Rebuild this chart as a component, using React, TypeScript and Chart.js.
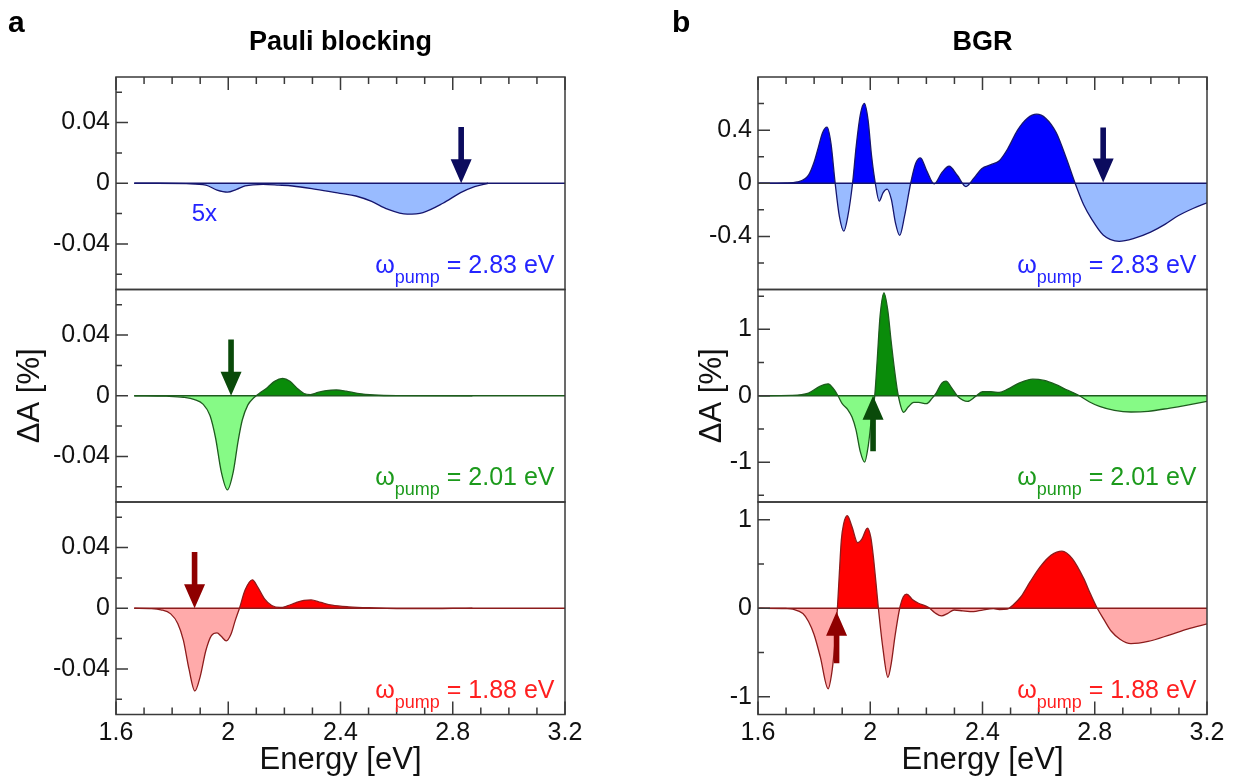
import React, { useEffect, useRef } from "react";
import { Chart, registerables } from "chart.js";
Chart.register(...registerables);

// ---------- shared axis data ----------
const X_TICKS = [1.6, 2.0, 2.4, 2.8, 3.2];
const X_MINOR = [1.7, 1.8, 1.9, 2.1, 2.2, 2.3, 2.5, 2.6, 2.7, 2.9, 3.0, 3.1];
const PUMP_ENERGIES = ["2.83", "2.01", "1.88"];
const ZERO_A_X = [1.665, 3.2];
const ZERO_B_X = [1.6, 3.2];
const ZERO_Y = [0, 0];

// ---------- panel a : Pauli blocking ----------
const A_RANGE = [-0.07, 0.07];
const A_MAJOR = [-0.04, 0, 0.04];
const A_MINOR = [-0.06, -0.02, 0.02, 0.06];

const A1_X = [1.665, 1.75, 1.85, 1.92, 1.96, 1.997, 2.03, 2.06, 2.124, 2.18, 2.229, 2.313, 2.398, 2.455, 2.511, 2.568, 2.638, 2.694, 2.765, 2.828, 2.878, 2.926];
const A1_Y = [0, 0, -0.0003, -0.0012, -0.0045, -0.0059, -0.004, -0.0018, -0.0007, -0.0012, -0.0018, -0.004, -0.0066, -0.0084, -0.012, -0.0171, -0.0204, -0.0193, -0.0132, -0.0062, -0.0022, 0];

const A2_X = [1.665, 1.78, 1.84, 1.88, 1.91, 1.935, 1.955, 1.975, 1.997, 2.018, 2.035, 2.05, 2.07, 2.09, 2.11, 2.14, 2.165, 2.194, 2.22, 2.245, 2.27, 2.293, 2.32, 2.35, 2.385, 2.42, 2.46, 2.52, 2.6, 2.87];
const A2_Y = [0, -0.0003, -0.001, -0.0025, -0.0055, -0.013, -0.028, -0.05, -0.062, -0.05, -0.03, -0.016, -0.006, -0.0015, 0.0015, 0.0055, 0.0095, 0.0114, 0.0095, 0.005, 0.0015, 0.0008, 0.0022, 0.0034, 0.0038, 0.003, 0.0016, 0.0005, 0.0001, 0];

const A3_X = [1.665, 1.72, 1.76, 1.795, 1.82, 1.84, 1.86, 1.881, 1.9, 1.92, 1.94, 1.96, 1.975, 1.993, 2.01, 2.025, 2.04, 2.06, 2.086, 2.105, 2.13, 2.155, 2.185, 2.21, 2.24, 2.27, 2.295, 2.33, 2.37, 2.43, 2.52, 2.6, 2.7, 2.8, 2.87];
const A3_Y = [0, -0.0002, -0.001, -0.0037, -0.01, -0.021, -0.04, -0.0545, -0.045, -0.028, -0.018, -0.0162, -0.0185, -0.0215, -0.017, -0.008, 0, 0.012, 0.0187, 0.014, 0.006, 0.0018, 0.0005, 0.0015, 0.0036, 0.0052, 0.0055, 0.0038, 0.002, 0.0009, 0.0002, -0.0002, -0.0003, -0.0001, 0];

const A_ARROW_E = [2.83, 2.01, 1.88];
const A_ARROW_FROM = [0.037, 0.037, 0.037];
const A_ARROW_TO = [0, 0, 0];
const A_NOTE_POS = [1.87, -0.0246];

// ---------- panel b : BGR ----------
const B1_RANGE = [-0.8, 0.8];
const B1_MAJOR = [-0.4, 0, 0.4];
const B1_MINOR = [-0.6, -0.2, 0.2, 0.6];
const B2_RANGE = [-1.6, 1.6];
const B2_MAJOR = [-1, 0, 1];
const B2_MINOR = [-1.5, -0.5, 0.5, 1.5];
const B3_RANGE = [-1.2, 1.2];
const B3_MAJOR = [-1, 0, 1];
const B3_MINOR = [-0.5, 0.5];

const B1_X = [1.605, 1.7, 1.74, 1.78, 1.8, 1.815, 1.83, 1.846, 1.86, 1.875, 1.89, 1.906, 1.92, 1.937, 1.95, 1.965, 1.979, 1.992, 2.005, 2.018, 2.032, 2.046, 2.06, 2.075, 2.09, 2.105, 2.122, 2.144, 2.162, 2.179, 2.2, 2.228, 2.255, 2.281, 2.31, 2.341, 2.37, 2.397, 2.43, 2.46, 2.49, 2.525, 2.56, 2.593, 2.625, 2.663, 2.7, 2.73, 2.76, 2.789, 2.83, 2.887, 2.94, 2.999, 3.05, 3.097, 3.15, 3.2];
const B1_Y = [0, 0.002, 0.01, 0.061, 0.16, 0.27, 0.38, 0.422, 0.3, 0, -0.25, -0.361, -0.25, 0, 0.28, 0.52, 0.601, 0.48, 0.2, 0, -0.135, -0.07, -0.044, -0.12, -0.3, -0.393, -0.25, 0, 0.15, 0.191, 0.1, -0.005, 0.08, 0.128, 0.06, -0.025, 0.04, 0.11, 0.14, 0.17, 0.26, 0.4, 0.49, 0.52, 0.49, 0.38, 0.18, 0, -0.16, -0.27, -0.39, -0.437, -0.415, -0.368, -0.31, -0.245, -0.19, -0.147];

const B2_X = [1.605, 1.72, 1.78, 1.82, 1.85, 1.87, 1.885, 1.9, 1.92, 1.935, 1.949, 1.965, 1.98, 1.993, 2.004, 2.016, 2.025, 2.035, 2.049, 2.062, 2.075, 2.088, 2.1, 2.119, 2.135, 2.155, 2.172, 2.2, 2.22, 2.235, 2.255, 2.27, 2.29, 2.312, 2.347, 2.375, 2.4, 2.43, 2.46, 2.49, 2.53, 2.579, 2.62, 2.66, 2.7, 2.746, 2.78, 2.817, 2.87, 2.929, 2.99, 3.068, 3.13, 3.2];
const B2_Y = [0, 0.005, 0.04, 0.14, 0.18, 0.1, 0, -0.12, -0.21, -0.32, -0.51, -0.85, -1.0, -0.75, -0.36, 0, 0.55, 1.2, 1.55, 1.3, 0.8, 0.34, 0, -0.25, -0.17, -0.1, -0.1, -0.12, -0.04, 0.04, 0.19, 0.22, 0.12, -0.01, -0.085, -0.01, 0.06, 0.06, 0.05, 0.1, 0.19, 0.25, 0.23, 0.17, 0.09, 0, -0.09, -0.16, -0.22, -0.245, -0.235, -0.185, -0.14, -0.085];

const B3_X = [1.605, 1.7, 1.724, 1.76, 1.78, 1.8, 1.822, 1.85, 1.862, 1.872, 1.883, 1.89, 1.897, 1.905, 1.918, 1.935, 1.955, 1.97, 1.99, 2.002, 2.011, 2.02, 2.029, 2.045, 2.063, 2.075, 2.088, 2.105, 2.118, 2.13, 2.15, 2.172, 2.207, 2.23, 2.254, 2.275, 2.299, 2.33, 2.368, 2.4, 2.439, 2.46, 2.488, 2.51, 2.537, 2.57, 2.606, 2.645, 2.683, 2.72, 2.76, 2.785, 2.809, 2.835, 2.859, 2.89, 2.929, 2.99, 3.068, 3.13, 3.2];
const B3_Y = [0, -0.003, -0.01, -0.06, -0.15, -0.3, -0.55, -0.91, -0.75, -0.47, 0, 0.4, 0.77, 0.95, 1.045, 0.92, 0.74, 0.78, 0.905, 0.8, 0.585, 0.3, 0, -0.45, -0.78, -0.62, -0.32, 0, 0.13, 0.16, 0.1, 0.057, 0.011, -0.05, -0.087, -0.06, -0.02, -0.03, -0.038, -0.02, -0.005, -0.015, -0.01, 0.04, 0.13, 0.3, 0.47, 0.6, 0.645, 0.56, 0.34, 0.16, 0, -0.14, -0.26, -0.35, -0.4, -0.375, -0.3, -0.235, -0.177];

const B_ARROW_E = [2.83, 2.01, 1.88];
const B_ARROW_FROM = [0.42, -0.835, -0.62];
const B_ARROW_TO = [0.005, 0, -0.04];

// ---------- styles ----------
const FONT = "'Liberation Sans', Arial, Helvetica, sans-serif";
const FRAME = "#3a3a3a";
const TEXT = "#111111";
const STYLES = [
  { line: "#16166e", above: "#0000ff", below: "#99bbff", zero: "#16166e", text: "#2424ff", arrow: "#0b0b5e" },
  { line: "#1e5c1e", above: "#0a8c0a", below: "#86fa86", zero: "#1e5c1e", text: "#1c9a1c", arrow: "#0a4a0a" },
  { line: "#8c1c1c", above: "#ff0000", below: "#ffaaaa", zero: "#8c1c1c", text: "#ff1f1f", arrow: "#8f0000" },
];

type Sub = { xs: number[]; ys: number[]; range: number[]; major: number[]; minor: number[] };
type Panel = {
  title: string;
  letter: string;
  subs: Sub[];
  zeroX: number[];
  arrowE: number[];
  arrowFrom: number[];
  arrowTo: number[];
  note: boolean;
  yAxisW: number;
  padRight: number;
  yTitlePad: number;
};

const PANEL_A: Panel = {
  title: "Pauli blocking",
  letter: "a",
  subs: [
    { xs: A1_X, ys: A1_Y, range: A_RANGE, major: A_MAJOR, minor: A_MINOR },
    { xs: A2_X, ys: A2_Y, range: A_RANGE, major: A_MAJOR, minor: A_MINOR },
    { xs: A3_X, ys: A3_Y, range: A_RANGE, major: A_MAJOR, minor: A_MINOR },
  ],
  zeroX: ZERO_A_X,
  arrowE: A_ARROW_E,
  arrowFrom: A_ARROW_FROM,
  arrowTo: A_ARROW_TO,
  note: true,
  yAxisW: 116,
  padRight: 53,
  yTitlePad: 11.5,
};

const PANEL_B: Panel = {
  title: "BGR",
  letter: "b",
  subs: [
    { xs: B1_X, ys: B1_Y, range: B1_RANGE, major: B1_MAJOR, minor: B1_MINOR },
    { xs: B2_X, ys: B2_Y, range: B2_RANGE, major: B2_MAJOR, minor: B2_MINOR },
    { xs: B3_X, ys: B3_Y, range: B3_RANGE, major: B3_MAJOR, minor: B3_MINOR },
  ],
  zeroX: ZERO_B_X,
  arrowE: B_ARROW_E,
  arrowFrom: B_ARROW_FROM,
  arrowTo: B_ARROW_TO,
  note: false,
  yAxisW: 140,
  padRight: 29,
  yTitlePad: 75.5,
};

function drawArrow(ctx: CanvasRenderingContext2D, x: number, yFrom: number, yTo: number, color: string) {
  const dir = yTo > yFrom ? 1 : -1;
  const head = 24;
  const hw = 10.5;
  const sw = 2.8;
  const baseY = yTo - dir * head;
  ctx.fillStyle = color;
  ctx.beginPath();
  ctx.moveTo(x - sw, yFrom);
  ctx.lineTo(x + sw, yFrom);
  ctx.lineTo(x + sw, baseY);
  ctx.lineTo(x + hw, baseY);
  ctx.lineTo(x, yTo);
  ctx.lineTo(x - hw, baseY);
  ctx.lineTo(x - sw, baseY);
  ctx.closePath();
  ctx.fill();
}

function drawPump(ctx: CanvasRenderingContext2D, right: number, baseY: number, color: string, value: string) {
  const big = `25px ${FONT}`;
  const small = `18px ${FONT}`;
  const tail = ` = ${value} eV`;
  ctx.textAlign = "left";
  ctx.textBaseline = "alphabetic";
  ctx.fillStyle = color;
  ctx.font = big;
  const wTail = ctx.measureText(tail).width;
  const wOm = ctx.measureText("\u03c9").width;
  ctx.font = small;
  const wSub = ctx.measureText("pump").width;
  let x = right - wTail - wSub - wOm;
  ctx.font = big;
  ctx.fillText("\u03c9", x, baseY);
  x += wOm;
  ctx.font = small;
  ctx.fillText("pump", x, baseY + 10);
  x += wSub;
  ctx.font = big;
  ctx.fillText(tail, x, baseY);
}

function makeDecor(panel: Panel) {
  return {
    id: "decor" + panel.letter,
    afterDatasetsDraw(chart: any) {
      const ctx: CanvasRenderingContext2D = chart.ctx;
      const ca = chart.chartArea;
      const xs = chart.scales.x;
      const ys = ["y1", "y2", "y3"].map((id) => chart.scales[id]);
      ctx.save();
      // frames
      ctx.strokeStyle = FRAME;
      ctx.lineWidth = 1.5;
      ys.forEach((s: any) => ctx.strokeRect(ca.left, s.top, ca.right - ca.left, s.bottom - s.top));
      // ticks
      ctx.beginPath();
      const tickX = (v: number, len: number) => {
        const px = xs.getPixelForValue(v);
        ctx.moveTo(px, ca.top);
        ctx.lineTo(px, ca.top + len);
        ctx.moveTo(px, ca.bottom);
        ctx.lineTo(px, ca.bottom - len);
      };
      X_TICKS.forEach((v) => tickX(v, 13));
      X_MINOR.forEach((v) => tickX(v, 7));
      ys.forEach((s: any, i: number) => {
        const sub = panel.subs[i];
        sub.major.forEach((v) => {
          const py = s.getPixelForValue(v);
          ctx.moveTo(ca.left, py);
          ctx.lineTo(ca.left + 12, py);
        });
        sub.minor.forEach((v) => {
          const py = s.getPixelForValue(v);
          ctx.moveTo(ca.left, py);
          ctx.lineTo(ca.left + 6, py);
        });
      });
      ctx.stroke();
      // arrows
      ys.forEach((s: any, i: number) => {
        const px = xs.getPixelForValue(panel.arrowE[i]);
        drawArrow(ctx, px, s.getPixelForValue(panel.arrowFrom[i]), s.getPixelForValue(panel.arrowTo[i]), STYLES[i].arrow);
      });
      // pump labels
      ys.forEach((s: any, i: number) => {
        drawPump(ctx, ca.right - 10.5, s.bottom - 17, STYLES[i].text, PUMP_ENERGIES[i]);
      });
      // 5x note
      if (panel.note) {
        ctx.font = `24px ${FONT}`;
        ctx.fillStyle = STYLES[0].text;
        ctx.textAlign = "left";
        ctx.textBaseline = "alphabetic";
        ctx.fillText("5x", xs.getPixelForValue(A_NOTE_POS[0]), ys[0].getPixelForValue(A_NOTE_POS[1]));
      }
      // panel letter
      ctx.font = `bold 30px ${FONT}`;
      ctx.fillStyle = "#000";
      ctx.textAlign = "left";
      ctx.textBaseline = "alphabetic";
      ctx.fillText(panel.letter, panel.letter === "a" ? 8 : 54, 32);
      ctx.restore();
    },
  };
}

function buildConfig(panel: Panel): any {
  const datasets: any[] = [];
  panel.subs.forEach((s, i) => {
    const yid = "y" + (i + 1);
    datasets.push({
      data: panel.zeroX.map((x, k) => ({ x, y: ZERO_Y[k] })),
      xAxisID: "x",
      yAxisID: yid,
      borderColor: STYLES[i].zero,
      borderWidth: 1.4,
      pointRadius: 0,
      fill: false,
      order: 0,
    });
    datasets.push({
      data: s.xs.map((x, k) => ({ x, y: s.ys[k] })),
      xAxisID: "x",
      yAxisID: yid,
      borderColor: STYLES[i].line,
      borderWidth: 1.3,
      pointRadius: 0,
      cubicInterpolationMode: "monotone",
      fill: { target: "origin", above: STYLES[i].above, below: STYLES[i].below },
      order: 1,
    });
  });

  const tickFont = { family: FONT, size: 25 };
  const scales: any = {
    x: {
      type: "linear",
      position: "bottom",
      min: X_TICKS[0],
      max: X_TICKS[X_TICKS.length - 1],
      afterBuildTicks: (sc: any) => {
        sc.ticks = X_TICKS.map((v) => ({ value: v }));
      },
      afterFit: (sc: any) => {
        sc.height = 67.5;
      },
      grid: { display: false, drawTicks: false, tickLength: 0 },
      border: { display: false },
      ticks: { font: tickFont, color: TEXT, padding: 4, maxRotation: 0, autoSkip: false, callback: (v: any) => String(v) },
      title: { display: true, text: "Energy [eV]", font: { family: FONT, size: 31 }, color: TEXT, padding: { top: 0, bottom: 3 } },
    },
  };
  panel.subs.forEach((s, i) => {
    scales["y" + (i + 1)] = {
      type: "linear",
      position: "left",
      stack: "p",
      stackWeight: 1,
      weight: 3 - i,
      min: s.range[0],
      max: s.range[1],
      afterBuildTicks: (sc: any) => {
        sc.ticks = s.major.map((v) => ({ value: v }));
      },
      afterFit: (sc: any) => {
        sc.width = panel.yAxisW;
      },
      grid: { display: false, drawTicks: false, tickLength: 0 },
      border: { display: false },
      ticks: { font: tickFont, color: TEXT, padding: 6, autoSkip: false, callback: (v: any) => String(v) },
      title:
        i === 1
          ? { display: true, text: "\u0394A [%]", font: { family: FONT, size: 31 }, color: TEXT, padding: { top: panel.yTitlePad, bottom: 0 } }
          : { display: false },
    };
  });

  return {
    type: "line",
    data: { datasets },
    options: {
      animation: false,
      responsive: false,
      devicePixelRatio: 1,
      parsing: true,
      layout: { padding: { left: 0, top: 0, right: panel.padRight, bottom: 0 } },
      scales,
      plugins: {
        legend: { display: false },
        tooltip: { enabled: false },
        title: {
          display: true,
          text: panel.title,
          fullSize: false,
          color: "#000",
          font: { family: FONT, size: 27, weight: "bold", lineHeight: 1.2 },
          padding: { top: 26, bottom: 18.6 },
        },
      },
    },
    plugins: [makeDecor(panel)],
  };
}

export default function App() {
  const refA = useRef<HTMLCanvasElement>(null);
  const refB = useRef<HTMLCanvasElement>(null);
  useEffect(() => {
    const ca = new Chart(refA.current as HTMLCanvasElement, buildConfig(PANEL_A));
    const cb = new Chart(refB.current as HTMLCanvasElement, buildConfig(PANEL_B));
    return () => {
      ca.destroy();
      cb.destroy();
    };
  }, []);
  return (
    <div style={{ position: "fixed", left: 0, top: 0, width: 1236, height: 782, background: "#fff" }}>
      <canvas ref={refA} width={618} height={782} style={{ position: "absolute", left: 0, top: 0, width: 618, height: 782 }} />
      <canvas ref={refB} width={618} height={782} style={{ position: "absolute", left: 618, top: 0, width: 618, height: 782 }} />
    </div>
  );
}
